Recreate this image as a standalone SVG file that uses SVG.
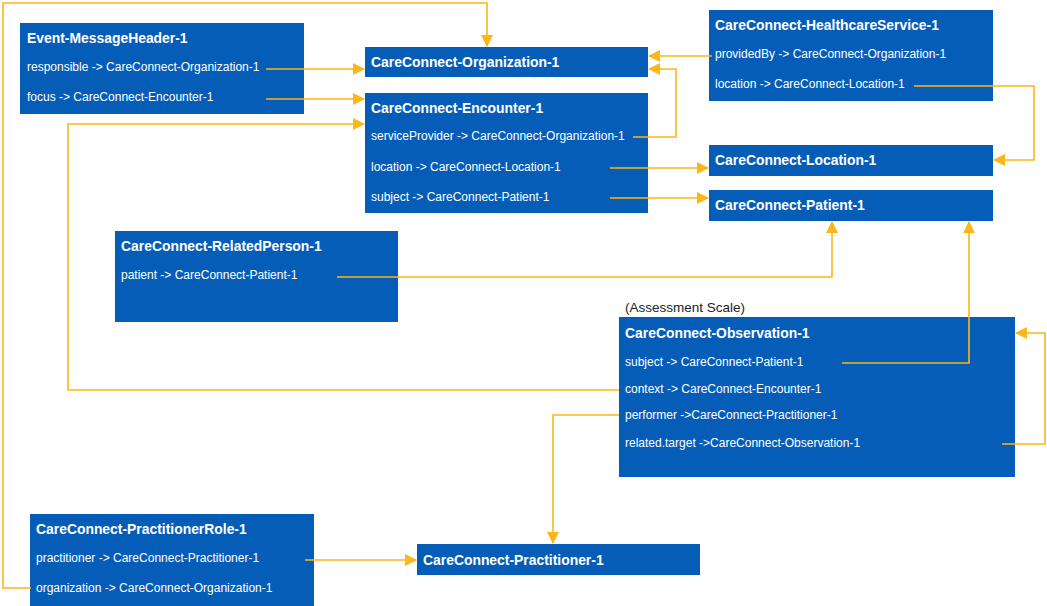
<svg xmlns="http://www.w3.org/2000/svg" width="1047" height="606" viewBox="0 0 1047 606">
<style>
.box{fill:#065db8;}
.t{font-family:"Liberation Sans",Arial,sans-serif;font-size:13.9px;font-weight:bold;fill:#fff;}
.r{font-family:"Liberation Sans",Arial,sans-serif;font-size:12px;fill:#fff;}
.note{font-family:"Liberation Sans",Arial,sans-serif;font-size:13.5px;fill:#222;}
.c{fill:none;stroke:#fbb617;stroke-width:1.6;}
</style>
<defs>
<marker id="ah" markerUnits="userSpaceOnUse" markerWidth="12" markerHeight="12" refX="11" refY="6" orient="auto">
<path d="M0,0 L12,6 L0,12 z" fill="#fbb617"/>
</marker>
</defs>
<rect width="1047" height="606" fill="#fff"/>
<g id="messageheader">
<rect class="box" x="20" y="23" width="284" height="91"/>
<text class="t" x="27" y="43">Event-MessageHeader-1</text>
<text class="r" x="27" y="71">responsible -&gt; CareConnect-Organization-1</text>
<text class="r" x="27" y="101">focus -&gt; CareConnect-Encounter-1</text>
</g>
<g id="organization">
<rect class="box" x="365" y="47" width="283" height="30"/>
<text class="t" x="371" y="67">CareConnect-Organization-1</text>
</g>
<g id="encounter">
<rect class="box" x="365" y="93" width="283" height="120"/>
<text class="t" x="371" y="113">CareConnect-Encounter-1</text>
<text class="r" x="371" y="140">serviceProvider -&gt; CareConnect-Organization-1</text>
<text class="r" x="371" y="171">location -&gt; CareConnect-Location-1</text>
<text class="r" x="371" y="201">subject -&gt; CareConnect-Patient-1</text>
</g>
<g id="healthcareservice">
<rect class="box" x="709" y="10" width="284" height="91"/>
<text class="t" x="715" y="30">CareConnect-HealthcareService-1</text>
<text class="r" x="715" y="58">providedBy -&gt; CareConnect-Organization-1</text>
<text class="r" x="715" y="88">location -&gt; CareConnect-Location-1</text>
</g>
<g id="location">
<rect class="box" x="709" y="145" width="284" height="31"/>
<text class="t" x="715" y="165">CareConnect-Location-1</text>
</g>
<g id="patient">
<rect class="box" x="709" y="190" width="284" height="31"/>
<text class="t" x="715" y="210">CareConnect-Patient-1</text>
</g>
<g id="relatedperson">
<rect class="box" x="115" y="231" width="283" height="91"/>
<text class="t" x="121" y="251">CareConnect-RelatedPerson-1</text>
<text class="r" x="121" y="279">patient -&gt; CareConnect-Patient-1</text>
</g>
<g id="observation">
<text class="note" x="625" y="312">(Assessment Scale)</text>
<rect class="box" x="619" y="317" width="396" height="160"/>
<text class="t" x="625" y="338">CareConnect-Observation-1</text>
<text class="r" x="625" y="366">subject -&gt; CareConnect-Patient-1</text>
<text class="r" x="625" y="393">context -&gt; CareConnect-Encounter-1</text>
<text class="r" x="625" y="419">performer -&gt;CareConnect-Practitioner-1</text>
<text class="r" x="625" y="447">related.target -&gt;CareConnect-Observation-1</text>
</g>
<g id="practitionerrole">
<rect class="box" x="30" y="514" width="284" height="92"/>
<text class="t" x="36" y="534">CareConnect-PractitionerRole-1</text>
<text class="r" x="36" y="562">practitioner -&gt; CareConnect-Practitioner-1</text>
<text class="r" x="36" y="592">organization -&gt; CareConnect-Organization-1</text>
</g>
<g id="practitioner">
<rect class="box" x="417" y="544" width="283" height="31"/>
<text class="t" x="423" y="565">CareConnect-Practitioner-1</text>
</g>
<g id="connectors">
<polyline class="c" points="31,588 3,588 3,3 487,3 487,46" marker-end="url(#ah)"/>
<polyline class="c" points="266,69 364,69" marker-end="url(#ah)"/>
<polyline class="c" points="266,99 364,99" marker-end="url(#ah)"/>
<polyline class="c" points="712,56 649,56" marker-end="url(#ah)"/>
<polyline class="c" points="633,137 676,137 676,69 649,69" marker-end="url(#ah)"/>
<polyline class="c" points="610,168 708,168" marker-end="url(#ah)"/>
<polyline class="c" points="610,198 708,198" marker-end="url(#ah)"/>
<polyline class="c" points="914,86 1034,86 1034,160 994,160" marker-end="url(#ah)"/>
<polyline class="c" points="337,277 832,277 832,222" marker-end="url(#ah)"/>
<polyline class="c" points="842,363 969,363 969,222" marker-end="url(#ah)"/>
<polyline class="c" points="1002,444 1045,444 1045,333 1016,333" marker-end="url(#ah)"/>
<polyline class="c" points="619,390 68,390 68,124 364,124" marker-end="url(#ah)"/>
<polyline class="c" points="619,415 553,415 553,543" marker-end="url(#ah)"/>
<polyline class="c" points="305,560 416,560" marker-end="url(#ah)"/>
</g>
</svg>
